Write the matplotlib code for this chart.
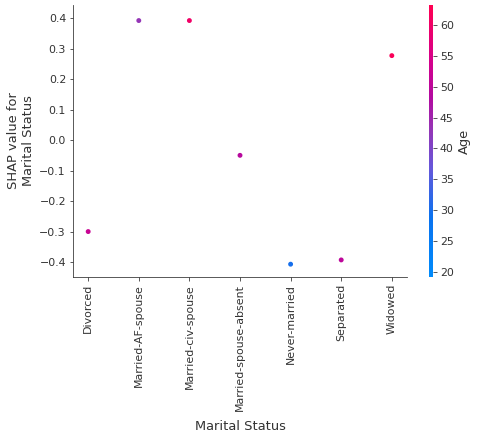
import matplotlib
matplotlib.use("Agg")
import matplotlib.pyplot as plt
from matplotlib.colors import LinearSegmentedColormap, Normalize
from matplotlib.cm import ScalarMappable

# values
categories = ["Divorced", "Married-AF-spouse", "Married-civ-spouse",
              "Married-spouse-absent", "Never-married", "Separated", "Widowed"]
shap_values = [-0.300, 0.392, 0.392, -0.050, -0.407, -0.393, 0.277]
ages = [52, 43, 60, 49, 30, 50, 62]

# approximation of the shap red_blue colormap
red_blue = LinearSegmentedColormap.from_list("red_blue", [
    (0.0, "#008bfb"), (0.22, "#0a72ef"), (0.4, "#6657da"),
    (0.55, "#9733b4"), (0.66, "#b20aa0"), (0.8, "#d6008b"),
    (1.0, "#ff0052")])

W, H = 478, 440
fig = plt.figure(figsize=(W / 72, H / 72), dpi=72)
ax = fig.add_axes([73 / W, (H - 277) / H, (407 - 73) / W, 272 / H])
cax = fig.add_axes([429 / W, (H - 277) / H, 4 / W, 272 / H])

norm = Normalize(vmin=19.2, vmax=63.2)
xs = list(range(len(categories)))
ax.scatter(xs, shap_values, c=ages, cmap=red_blue, norm=norm, s=24,
           linewidth=0)

ax.set_xlim(-0.3, len(categories) - 0.7)
ax.set_ylim(-0.449, 0.443)
ax.set_xticks(xs)
ax.set_xticklabels(categories, rotation=90, fontsize=11)
ax.tick_params(axis="y", labelsize=11)
ax.tick_params(color="#333333", labelcolor="#333333")
ax.xaxis.set_ticks_position("bottom")
ax.yaxis.set_ticks_position("left")
for side in ["top", "right"]:
    ax.spines[side].set_visible(False)
for side in ["left", "bottom"]:
    ax.spines[side].set_color("#333333")
ax.set_xlabel("Marital Status", fontsize=13, color="#333333", labelpad=9)
ax.set_ylabel("SHAP value for\nMarital Status", fontsize=13, color="#333333")

cb = fig.colorbar(ScalarMappable(norm=norm, cmap=red_blue), cax=cax)
cb.outline.set_visible(False)
cb.set_ticks([20, 25, 30, 35, 40, 45, 50, 55, 60])
cb.ax.tick_params(labelsize=11, color="#333333", labelcolor="#333333")
cb.set_label("Age", size=13, color="#333333")

fig.savefig("out.png", dpi=72)
